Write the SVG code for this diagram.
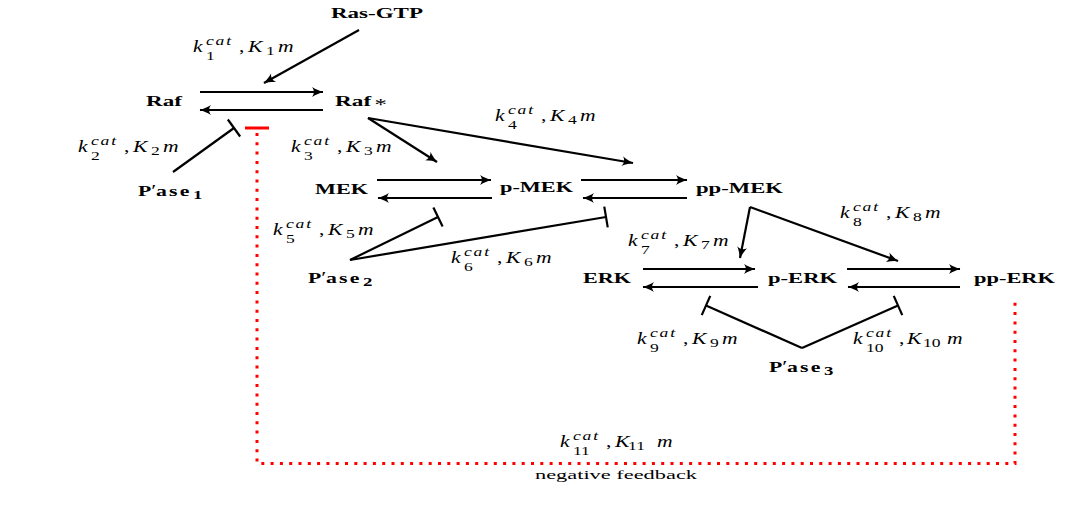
<svg xmlns="http://www.w3.org/2000/svg" width="1080" height="510" viewBox="0 0 1080 510">
<style>
.n{font-family:"Liberation Serif","DejaVu Serif",serif;font-weight:bold;font-size:15px;fill:#000}
.m{font-family:"Liberation Serif","DejaVu Serif",serif;font-style:italic;font-size:16px;fill:#000}
.s{font-size:13px;letter-spacing:1.4px}
.d{font-size:13px;font-style:normal}
.u{font-style:normal}
.pr{font-weight:normal;font-size:16px}
.sb{font-size:13px}
.e{fill:none;stroke:#000;stroke-width:2.2}
.a{marker-end:url(#ah)}
.b{marker-end:url(#bar)}
.fb{fill:none;stroke:#f00;stroke-width:3}
.cap{font-family:"Liberation Serif","DejaVu Serif",serif;font-size:13px;fill:#000}
</style>
<defs>
<marker id="ah" markerUnits="userSpaceOnUse" viewBox="-12 -6 13 12" refX="0" refY="0" markerWidth="13" markerHeight="12" orient="auto">
<path d="M0.5,0 C-3,-1 -7,-2.5 -11,-5 C-8.5,-2 -8.5,2 -11,5 C-7,2.5 -3,1 0.5,0 Z" fill="#000"/>
</marker>
<marker id="bar" markerUnits="userSpaceOnUse" viewBox="-2 -12 4 24" refX="0" refY="0" markerWidth="4" markerHeight="24" orient="auto">
<path d="M0,-10.5 V10.5" stroke="#000" stroke-width="2.2"/>
</marker>
</defs>
<rect width="1080" height="510" fill="#fff"/>

<g id="connectors">
<path class="e a" d="M359,30 L264,83"/>
<path class="e a" d="M200,92 H323"/>
<path class="e a" d="M323,110 H200"/>
<path class="e b" d="M173,172 L234,128"/>
<path class="e a" d="M368,118 L437,162"/>
<path class="e a" d="M368,118 L633,163"/>
<path class="e a" d="M377,180 H491"/>
<path class="e a" d="M492,198 H378"/>
<path class="e a" d="M581,180 H687"/>
<path class="e a" d="M687,198 H583"/>
<path class="e b" d="M350,260 L438,217"/>
<path class="e b" d="M350,260 L606,217"/>
<path class="e a" d="M750,207 L740,258"/>
<path class="e a" d="M750,207 L898,261"/>
<path class="e a" d="M643,269 H755"/>
<path class="e a" d="M758,287 H643"/>
<path class="e a" d="M847,269 H960"/>
<path class="e a" d="M960,287 H848"/>
<path class="e b" d="M802,348 L706,305.5"/>
<path class="e b" d="M802,348 L898,305.5"/>
<path id="feedback" class="fb" stroke-dasharray="3 6.3" d="M257,133 V463.5 H1015 V300"/>
<path class="fb" d="M245,128 H269"/>
</g>

<g id="rate-labels">
<text class="m" transform="translate(193,52) scale(1.35,1)">k<tspan class="s" x="9.6" dy="-7">cat</tspan><tspan class="d" x="9.6" dy="15">1</tspan><tspan class="u" x="34" dy="-8">,</tspan><tspan x="40.7">K</tspan><tspan class="d" x="54" dy="3">1</tspan><tspan x="63" dy="-3">m</tspan></text>
<text class="m" transform="translate(78,152) scale(1.35,1)">k<tspan class="s" x="9.6" dy="-7">cat</tspan><tspan class="d" x="9.6" dy="15">2</tspan><tspan class="u" x="34" dy="-8">,</tspan><tspan x="40.7">K</tspan><tspan class="d" x="54" dy="3">2</tspan><tspan x="63" dy="-3">m</tspan></text>
<text class="m" transform="translate(291,152) scale(1.35,1)">k<tspan class="s" x="9.6" dy="-7">cat</tspan><tspan class="d" x="9.6" dy="15">3</tspan><tspan class="u" x="34" dy="-8">,</tspan><tspan x="40.7">K</tspan><tspan class="d" x="54" dy="3">3</tspan><tspan x="63" dy="-3">m</tspan></text>
<text class="m" transform="translate(495,121) scale(1.35,1)">k<tspan class="s" x="9.6" dy="-7">cat</tspan><tspan class="d" x="9.6" dy="15">4</tspan><tspan class="u" x="34" dy="-8">,</tspan><tspan x="40.7">K</tspan><tspan class="d" x="54" dy="3">4</tspan><tspan x="63" dy="-3">m</tspan></text>
<text class="m" transform="translate(273,235) scale(1.35,1)">k<tspan class="s" x="9.6" dy="-7">cat</tspan><tspan class="d" x="9.6" dy="15">5</tspan><tspan class="u" x="34" dy="-8">,</tspan><tspan x="40.7">K</tspan><tspan class="d" x="54" dy="3">5</tspan><tspan x="63" dy="-3">m</tspan></text>
<text class="m" transform="translate(451,263) scale(1.35,1)">k<tspan class="s" x="9.6" dy="-7">cat</tspan><tspan class="d" x="9.6" dy="15">6</tspan><tspan class="u" x="34" dy="-8">,</tspan><tspan x="40.7">K</tspan><tspan class="d" x="54" dy="3">6</tspan><tspan x="63" dy="-3">m</tspan></text>
<text class="m" transform="translate(628,246) scale(1.35,1)">k<tspan class="s" x="9.6" dy="-7">cat</tspan><tspan class="d" x="9.6" dy="15">7</tspan><tspan class="u" x="34" dy="-8">,</tspan><tspan x="40.7">K</tspan><tspan class="d" x="54" dy="3">7</tspan><tspan x="63" dy="-3">m</tspan></text>
<text class="m" transform="translate(840,218) scale(1.35,1)">k<tspan class="s" x="9.6" dy="-7">cat</tspan><tspan class="d" x="9.6" dy="15">8</tspan><tspan class="u" x="34" dy="-8">,</tspan><tspan x="40.7">K</tspan><tspan class="d" x="54" dy="3">8</tspan><tspan x="63" dy="-3">m</tspan></text>
<text class="m" transform="translate(637,344) scale(1.35,1)">k<tspan class="s" x="9.6" dy="-7">cat</tspan><tspan class="d" x="9.6" dy="15">9</tspan><tspan class="u" x="34" dy="-8">,</tspan><tspan x="40.7">K</tspan><tspan class="d" x="54" dy="3">9</tspan><tspan x="63" dy="-3">m</tspan></text>
<text class="m" transform="translate(853,344) scale(1.35,1)">k<tspan class="s" x="9.6" dy="-7">cat</tspan><tspan class="d" x="9.6" dy="15">10</tspan><tspan class="u" x="34" dy="-8">,</tspan><tspan x="40">K</tspan><tspan class="d" x="51.9" dy="3">10</tspan><tspan x="69.6" dy="-3">m</tspan></text>
<text class="m" transform="translate(560,447) scale(1.35,1)">k<tspan class="s" x="9.6" dy="-7">cat</tspan><tspan class="d" x="9.6" dy="15">11</tspan><tspan class="u" x="34" dy="-8">,</tspan><tspan x="40.7">K</tspan><tspan class="d" x="50.4" dy="3">11</tspan><tspan x="71.9" dy="-3">m</tspan></text>
<text class="cap" x="535" y="479" textLength="162" lengthAdjust="spacingAndGlyphs">negative feedback</text>
</g>

<g id="node-ras-gtp"><text class="n" x="331" y="18" textLength="92" lengthAdjust="spacingAndGlyphs">Ras-GTP</text></g>
<g id="node-raf"><text class="n" x="146" y="106" textLength="36" lengthAdjust="spacingAndGlyphs">Raf</text></g>
<g id="node-raf-star"><text class="n" transform="translate(335,106) scale(1.55,1)">Raf<tspan class="pr" x="25.5" dy="4">*</tspan></text></g>
<g id="node-mek"><text class="n" x="315" y="194" textLength="53" lengthAdjust="spacingAndGlyphs">MEK</text></g>
<g id="node-p-mek"><text class="n" x="500" y="192" textLength="73" lengthAdjust="spacingAndGlyphs">p-MEK</text></g>
<g id="node-pp-mek"><text class="n" x="696" y="193" textLength="87" lengthAdjust="spacingAndGlyphs">pp-MEK</text></g>
<g id="node-erk"><text class="n" x="583" y="283" textLength="48" lengthAdjust="spacingAndGlyphs">ERK</text></g>
<g id="node-p-erk"><text class="n" x="768" y="283" textLength="69" lengthAdjust="spacingAndGlyphs">p-ERK</text></g>
<g id="node-pp-erk"><text class="n" x="974" y="283" textLength="81" lengthAdjust="spacingAndGlyphs">pp-ERK</text></g>
<g id="node-pase1"><text class="n" transform="translate(138,196) scale(1.45,1)">P<tspan class="pr" x="9.2">′</tspan><tspan x="12.4" letter-spacing="1.5">ase</tspan><tspan class="sb" x="37.9" dy="3">1</tspan></text></g>
<g id="node-pase2"><text class="n" transform="translate(308,283) scale(1.45,1)">P<tspan class="pr" x="9.2">′</tspan><tspan x="12.4" letter-spacing="1.5">ase</tspan><tspan class="sb" x="37.9" dy="3">2</tspan></text></g>
<g id="node-pase3"><text class="n" transform="translate(769,372) scale(1.45,1)">P<tspan class="pr" x="9.2">′</tspan><tspan x="12.4" letter-spacing="1.5">ase</tspan><tspan class="sb" x="37.9" dy="3">3</tspan></text></g>
</svg>
